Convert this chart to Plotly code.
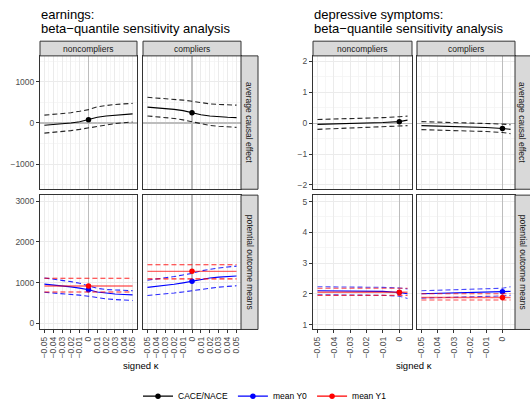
import plotly.graph_objects as go

W, H = 530, 411

# ---------------- data ----------------
kappa_earn = [-0.05, -0.04, -0.03, -0.02, -0.01, 0, 0.01, 0.02, 0.03, 0.04, 0.05]
kappa_dep = [-0.05, -0.04, -0.03, -0.02, -0.01, 0, 0.005]

# earnings, average causal effect
earn_nc_ace = [-55, -40, -22, 0, 30, 79, 140, 170, 192, 208, 221]
earn_nc_ace_hi = [190, 205, 225, 250, 285, 325, 395, 430, 450, 465, 476]
earn_nc_ace_lo = [-246, -230, -210, -185, -155, -119, -70, -40, -15, 5, 25]
earn_c_ace = [386, 370, 352, 330, 300, 250, 200, 170, 150, 140, 131]
earn_c_ace_hi = [624, 610, 595, 575, 555, 528, 490, 465, 450, 440, 433]
earn_c_ace_lo = [171, 155, 135, 110, 75, 28, -30, -60, -80, -95, -107]

# earnings, potential outcome means
earn_nc_y0 = [964, 945, 920, 895, 865, 827, 770, 740, 720, 708, 699]
earn_nc_y0_hi = [1116, 1090, 1060, 1025, 985, 923, 860, 830, 815, 808, 803]
earn_nc_y0_lo = [763, 748, 730, 712, 693, 667, 625, 600, 585, 572, 562]
earn_nc_y1 = [916] * 11
earn_nc_y1_hi = [1108] * 11
earn_nc_y1_lo = [771] * 11
earn_c_y0 = [884, 905, 930, 960, 995, 1036, 1090, 1115, 1135, 1150, 1164]
earn_c_y0_hi = [1060, 1085, 1115, 1150, 1190, 1229, 1290, 1330, 1360, 1385, 1405]
earn_c_y0_lo = [683, 700, 720, 745, 772, 803, 845, 870, 890, 908, 923]
earn_c_y1 = [1277] * 11
earn_c_y1_hi = [1438] * 11
earn_c_y1_lo = [1092] * 11

# depressive symptoms, average causal effect
dep_nc_ace = [-0.04, -0.03, -0.01, 0.0, 0.02, 0.05, 0.1]
dep_nc_ace_hi = [0.12, 0.13, 0.15, 0.16, 0.18, 0.21, 0.23]
dep_nc_ace_lo = [-0.2, -0.18, -0.17, -0.15, -0.13, -0.1, -0.08]
dep_c_ace = [-0.08, -0.09, -0.11, -0.12, -0.14, -0.17, -0.2]
dep_c_ace_hi = [0.05, 0.04, 0.02, 0.01, -0.01, -0.03, -0.05]
dep_c_ace_lo = [-0.21, -0.22, -0.24, -0.25, -0.27, -0.3, -0.34]

# depressive symptoms, potential outcome means
dep_nc_y0 = [2.1, 2.1, 2.09, 2.09, 2.08, 2.04, 2.0]
dep_nc_y0_hi = [2.23, 2.23, 2.22, 2.22, 2.21, 2.19, 2.16]
dep_nc_y0_lo = [1.97, 1.97, 1.96, 1.96, 1.95, 1.92, 1.85]
dep_nc_y1 = [2.05] * 7
dep_nc_y1_hi = [2.18] * 7
dep_nc_y1_lo = [1.95] * 7
dep_c_y0 = [2.0, 2.01, 2.02, 2.03, 2.04, 2.07, 2.08]
dep_c_y0_hi = [2.1, 2.12, 2.13, 2.15, 2.16, 2.18, 2.23]
dep_c_y0_lo = [1.86, 1.87, 1.88, 1.9, 1.91, 1.93, 1.95]
dep_c_y1 = [1.88] * 7
dep_c_y1_hi = [2.0] * 7
dep_c_y1_lo = [1.8] * 7

# ticks
xticks_earn = [-0.05, -0.04, -0.03, -0.02, -0.01, 0, 0.01, 0.02, 0.03, 0.04, 0.05]
xlabels_earn = ["\u22120.05", "\u22120.04", "\u22120.03", "\u22120.02", "\u22120.01", "0",
                "0.01", "0.02", "0.03", "0.04", "0.05"]
xticks_dep = [-0.05, -0.04, -0.03, -0.02, -0.01, 0]
xlabels_dep = ["\u22120.05", "\u22120.04", "\u22120.03", "\u22120.02", "\u22120.01", "0"]
yticks_earn_ace = [-1000, 0, 1000]
ylabels_earn_ace = ["\u22121000", "0", "1000"]
yticks_earn_pom = [0, 1000, 2000, 3000]
ylabels_earn_pom = ["0", "1000", "2000", "3000"]
yticks_dep_ace = [-2, -1, 0, 1, 2]
ylabels_dep_ace = ["\u22122", "\u22121", "0", "1", "2"]
yticks_dep_pom = [1, 2, 3, 4, 5]
ylabels_dep_pom = ["1", "2", "3", "4", "5"]

col_labels = ["noncompliers", "compliers"]
row_labels = ["average causal effect", "potential outcome means"]
titles = ["earnings:", "beta\u2212quantile sensitivity analysis",
          "depressive symptoms:", "beta\u2212quantile sensitivity analysis"]
series_names = ["CACE/NACE", "mean Y0", "mean Y1"]

# ---------------- layout helpers ----------------
def px_x(p):
    return p / W

def px_y(p):
    return 1 - p / H

cols_px = [(40, 137), (143, 241), (313, 412), (417, 515)]
rows_px = [(57, 193), (199, 336)]

FONT = "Liberation Sans, Arial, sans-serif"
GRID = "#EBEBEB"
MINOR = "#F4F4F4"
BORDER = "#333333"
REFLINE = "#BDBDBD"

fig = go.Figure()

BLACK = "#000000"
BLUE = "#0000FF"
RED = "#FF0000"

def add_series(ax, x, est, lo, hi, color, name, showlegend, solid_alpha=1.0, dash_alpha=0.85):
    xa, ya = ("x" if ax == 1 else f"x{ax}"), ("y" if ax == 1 else f"y{ax}")
    r, g, b = int(color[1:3], 16), int(color[3:5], 16), int(color[5:7], 16)
    cs = f"rgba({r},{g},{b},{solid_alpha})"
    cd = f"rgba({r},{g},{b},{dash_alpha})"
    for arr in (hi, lo):
        fig.add_trace(go.Scatter(x=x, y=arr, mode="lines", xaxis=xa, yaxis=ya,
                                 line=dict(color=cd, width=1.1, dash="5px,3px"),
                                 showlegend=False, hoverinfo="skip"))
    fig.add_trace(go.Scatter(x=x, y=est, mode="lines", xaxis=xa, yaxis=ya,
                             line=dict(color=cs, width=1.4 if solid_alpha < 1 else 1.1),
                             showlegend=False, hoverinfo="skip"))
    i0 = x.index(0)
    fig.add_trace(go.Scatter(x=[x[i0]], y=[est[i0]], mode="lines+markers", xaxis=xa, yaxis=ya,
                             marker=dict(color=color, size=5.5), line=dict(color=color, width=1.1),
                             name=name, showlegend=showlegend, legendgroup=name))

# panel 1..8
add_series(1, kappa_earn, earn_nc_ace, earn_nc_ace_lo, earn_nc_ace_hi, BLACK, series_names[0], True)
add_series(2, kappa_earn, earn_c_ace, earn_c_ace_lo, earn_c_ace_hi, BLACK, series_names[0], False)
add_series(3, kappa_earn, earn_nc_y0, earn_nc_y0_lo, earn_nc_y0_hi, BLUE, series_names[1], True)
add_series(3, kappa_earn, earn_nc_y1, earn_nc_y1_lo, earn_nc_y1_hi, RED, series_names[2], True, 0.6)
add_series(4, kappa_earn, earn_c_y0, earn_c_y0_lo, earn_c_y0_hi, BLUE, series_names[1], False)
add_series(4, kappa_earn, earn_c_y1, earn_c_y1_lo, earn_c_y1_hi, RED, series_names[2], False, 0.6)
add_series(5, kappa_dep, dep_nc_ace, dep_nc_ace_lo, dep_nc_ace_hi, BLACK, series_names[0], False)
add_series(6, kappa_dep, dep_c_ace, dep_c_ace_lo, dep_c_ace_hi, BLACK, series_names[0], False)
add_series(7, kappa_dep, dep_nc_y0, dep_nc_y0_lo, dep_nc_y0_hi, BLUE, series_names[1], False, 1.0, 0.7)
add_series(7, kappa_dep, dep_nc_y1, dep_nc_y1_lo, dep_nc_y1_hi, RED, series_names[2], False, 0.6, 0.7)
add_series(8, kappa_dep, dep_c_y0, dep_c_y0_lo, dep_c_y0_hi, BLUE, series_names[1], False, 1.0, 0.7)
add_series(8, kappa_dep, dep_c_y1, dep_c_y1_lo, dep_c_y1_hi, RED, series_names[2], False, 0.6, 0.7)

def halfsteps(vals, lo_ext, hi_ext):
    step = vals[1] - vals[0]
    out = []
    v = vals[0] - step / 2
    while v > lo_ext:
        out.insert(0, v)
        v -= step
    for a, b in zip(vals[:-1], vals[1:]):
        out.append((a + b) / 2)
    v = vals[-1] + step / 2
    while v < hi_ext:
        out.append(v)
        v += step
    return out

panels = {
    # ax: (col, row, xrange, yrange, xticks, xlabels, yticks, ylabels)
    1: (0, 0, [-0.055, 0.055], [-1610, 1630], xticks_earn, xlabels_earn, yticks_earn_ace, ylabels_earn_ace),
    2: (1, 0, [-0.055, 0.055], [-1610, 1630], xticks_earn, xlabels_earn, yticks_earn_ace, ylabels_earn_ace),
    3: (0, 1, [-0.055, 0.055], [-150, 3150], xticks_earn, xlabels_earn, yticks_earn_pom, ylabels_earn_pom),
    4: (1, 1, [-0.055, 0.055], [-150, 3150], xticks_earn, xlabels_earn, yticks_earn_pom, ylabels_earn_pom),
    5: (2, 0, [-0.05275, 0.00775], [-2.14, 2.18], xticks_dep, xlabels_dep, yticks_dep_ace, ylabels_dep_ace),
    6: (3, 0, [-0.05275, 0.00775], [-2.14, 2.18], xticks_dep, xlabels_dep, yticks_dep_ace, ylabels_dep_ace),
    7: (2, 1, [-0.05275, 0.00775], [0.84, 5.21], xticks_dep, xlabels_dep, yticks_dep_pom, ylabels_dep_pom),
    8: (3, 1, [-0.05275, 0.00775], [0.84, 5.21], xticks_dep, xlabels_dep, yticks_dep_pom, ylabels_dep_pom),
}

tickfont = dict(family=FONT, size=8.5, color="#4D4D4D")
shapes = []
layout = {}
for ax, (c, r, xr, yr, xt, xl, yt, yl) in panels.items():
    x0p, x1p = cols_px[c]
    y0p, y1p = rows_px[r]
    sx = "" if ax == 1 else str(ax)
    show_x = (r == 1)
    show_y = (c in (0, 2))
    layout[f"xaxis{sx}"] = dict(
        domain=[px_x(x0p), px_x(x1p)], anchor=f"y{sx}", range=xr,
        tickvals=xt, ticktext=xl, showticklabels=show_x, tickangle=-90,
        ticks="outside" if show_x else "", ticklen=3, tickcolor=BORDER, tickwidth=1,
        tickfont=tickfont, showgrid=True, gridcolor=GRID, gridwidth=1,
        minor=dict(tickvals=halfsteps(xt, xr[0], xr[1]), showgrid=True, gridcolor=MINOR, gridwidth=0.8, ticks=""),
        showline=True, mirror=True, linecolor=BORDER, linewidth=1,
        zeroline=True, zerolinecolor=REFLINE, zerolinewidth=1.2, fixedrange=True)
    layout[f"yaxis{sx}"] = dict(
        domain=[px_y(y1p), px_y(y0p)], anchor=f"x{sx}", range=yr,
        tickvals=yt, ticktext=yl, showticklabels=show_y,
        ticks="outside" if show_y else "", ticklen=3, tickcolor=BORDER, tickwidth=1,
        tickfont=tickfont, showgrid=True, gridcolor=GRID, gridwidth=1,
        minor=dict(tickvals=halfsteps(yt, yr[0], yr[1]), showgrid=True, gridcolor=MINOR, gridwidth=0.8, ticks=""),
        showline=True, mirror=True, linecolor=BORDER, linewidth=1,
        zeroline=(r == 0), zerolinecolor=REFLINE, zerolinewidth=1.2, fixedrange=True)

annotations = []
STRIP = "#D9D9D9"
stripfont = dict(family=FONT, size=8.5, color="#1A1A1A")
# column strips
for c, (x0p, x1p) in enumerate(cols_px):
    shapes.append(dict(type="rect", xref="paper", yref="paper", x0=px_x(x0p), x1=px_x(x1p),
                       y0=px_y(57), y1=px_y(42), fillcolor=STRIP, line=dict(color=BORDER, width=1)))
    annotations.append(dict(xref="paper", yref="paper", x=px_x((x0p + x1p) / 2), y=px_y(49.5),
                            text=col_labels[c % 2], showarrow=False, font=stripfont,
                            xanchor="center", yanchor="middle"))
# row strips
for sx0, sx1, tx in [(241, 258, 249.5), (515, 531, 522.5)]:
    for r, (y0p, y1p) in enumerate(rows_px):
        shapes.append(dict(type="rect", xref="paper", yref="paper", x0=px_x(sx0), x1=px_x(sx1),
                           y0=px_y(y1p), y1=px_y(y0p), fillcolor=STRIP, line=dict(color=BORDER, width=1)))
        annotations.append(dict(xref="paper", yref="paper", x=px_x(tx), y=px_y((y0p + y1p) / 2),
                                text=row_labels[r], showarrow=False, font=stripfont, textangle=90,
                                xanchor="center", yanchor="middle"))

# titles
titlefont = dict(family=FONT, size=13, color="#000000")
for i, (xp, yp) in enumerate([(40, 15), (40, 29), (313, 15), (313, 29)]):
    annotations.append(dict(xref="paper", yref="paper", x=px_x(xp - 1), y=px_y(yp), text=titles[i],
                            showarrow=False, font=titlefont, xanchor="left", yanchor="middle"))
# x-axis titles
for xc in [(40 + 241) / 2, (313 + 515) / 2]:
    annotations.append(dict(xref="paper", yref="paper", x=px_x(xc), y=px_y(373), text="signed \u03ba",
                            showarrow=False, font=dict(family=FONT, size=9.5, color="#000000"),
                            xanchor="center", yanchor="middle"))

fig.update_layout(
    width=W, height=H, margin=dict(l=0, r=0, t=0, b=0),
    paper_bgcolor="white", plot_bgcolor="white",
    shapes=shapes, annotations=annotations,
    showlegend=True, hovermode=False,
    legend=dict(orientation="h", x=0.5, xanchor="center", y=px_y(404), yanchor="middle",
                font=dict(family=FONT, size=8.5, color="#000000"), bgcolor="rgba(0,0,0,0)",
                itemwidth=30, tracegroupgap=0),
    **layout,
)

fig.write_html("out.html", config={"displayModeBar": False, "staticPlot": True},
               post_script="document.body.style.margin='0px';document.body.style.overflow='hidden';")
